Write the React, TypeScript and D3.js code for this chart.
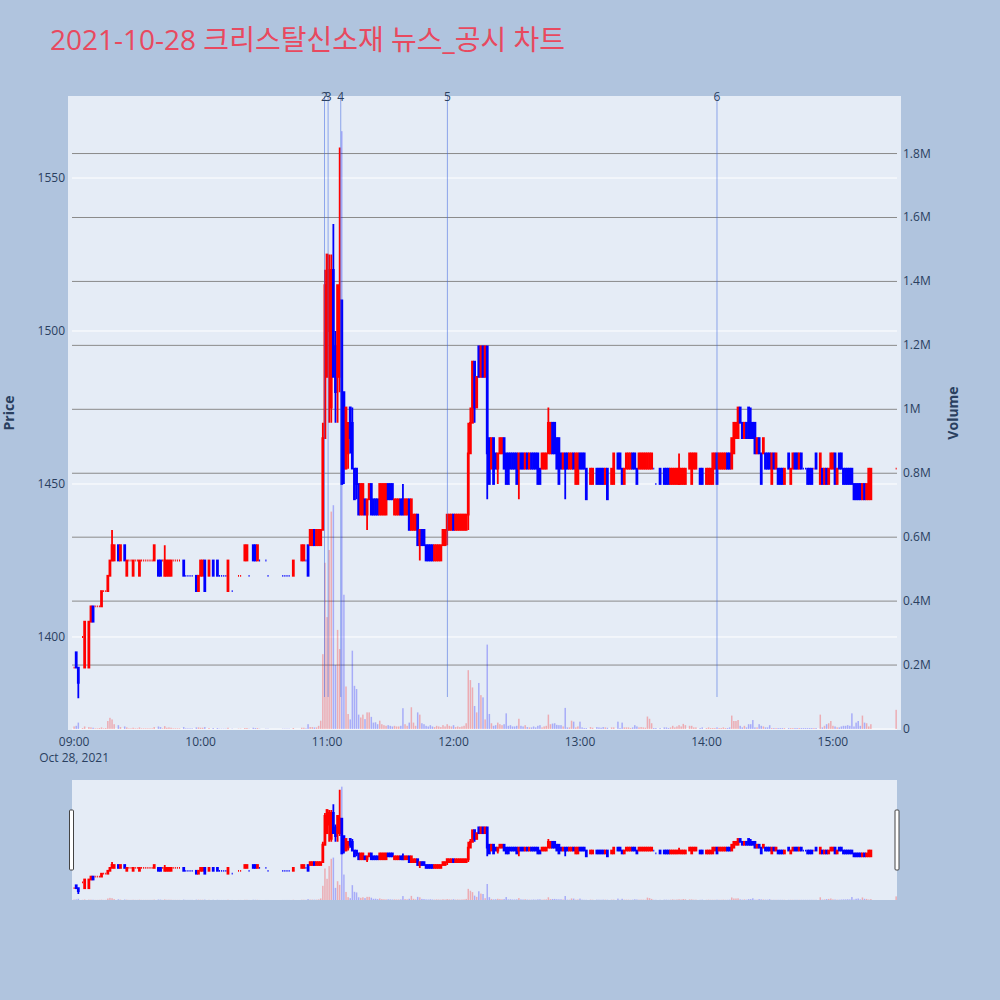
import React from "react";
import * as d3 from "d3";

// ---- data (minutes after 09:00, OHLC in KRW, volume in thousands of shares) ----
const minutes = [
  0, 1, 2, 4, 5, 7, 8, 9, 10, 11,
  12, 13, 14, 15, 16, 17, 18, 19, 21, 22,
  24, 25, 26, 27, 28, 29, 30, 31, 32, 33,
  34, 35, 36, 37, 38, 40, 41, 42, 43, 44,
  45, 46, 47, 48, 49, 50, 52, 53, 54, 55,
  56, 58, 59, 60, 61, 62, 64, 66, 68, 69,
  70, 71, 72, 73, 75, 78, 79, 81, 82, 83,
  85, 86, 87, 88, 91, 92, 99, 100, 101, 102,
  104, 108, 109, 110, 111, 112, 113, 114, 115, 116,
  117, 118, 119, 120, 121, 122, 123, 124, 125, 126,
  127, 128, 129, 130, 131, 132, 133, 134, 135, 136,
  137, 138, 139, 140, 141, 142, 143, 144, 145, 146,
  147, 148, 149, 150, 151, 152, 153, 154, 155, 156,
  157, 158, 159, 160, 161, 162, 163, 164, 165, 166,
  167, 168, 169, 170, 171, 172, 173, 174, 175, 176,
  177, 178, 179, 180, 181, 182, 183, 184, 185, 186,
  187, 188, 189, 190, 191, 192, 193, 194, 195, 196,
  197, 198, 199, 200, 201, 202, 203, 204, 205, 206,
  207, 208, 209, 210, 211, 212, 213, 214, 215, 216,
  217, 218, 219, 220, 221, 222, 223, 224, 225, 226,
  227, 228, 229, 230, 231, 232, 233, 234, 235, 236,
  237, 238, 239, 240, 241, 242, 243, 245, 246, 248,
  249, 250, 251, 252, 253, 255, 256, 258, 259, 260,
  261, 262, 263, 264, 265, 266, 267, 268, 269, 270,
  271, 272, 273, 274, 275, 276, 278, 280, 281, 282,
  283, 284, 285, 286, 287, 288, 289, 290, 292, 293,
  294, 295, 297, 298, 300, 301, 302, 303, 304, 305,
  306, 307, 308, 309, 310, 311, 312, 313, 314, 315,
  316, 317, 318, 319, 320, 321, 322, 323, 324, 325,
  326, 327, 328, 329, 330, 331, 332, 333, 334, 335,
  336, 337, 339, 340, 341, 342, 343, 344, 345, 346,
  347, 348, 349, 350, 351, 352, 354, 355, 356, 357,
  358, 359, 360, 361, 362, 363, 364, 365, 366, 367,
  368, 369, 370, 371, 372, 373, 374, 375, 376, 377,
  378, 390,
];
const opens = [
  1390, 1395, 1390, 1400, 1390, 1390, 1405, 1410, 1410, 1410,
  1410, 1410, 1415, 1415, 1415, 1420, 1425, 1425, 1430, 1425,
  1430, 1420, 1425, 1425, 1420, 1425, 1425, 1420, 1425, 1425,
  1425, 1425, 1425, 1425, 1425, 1425, 1425, 1425, 1420, 1420,
  1420, 1420, 1425, 1425, 1425, 1425, 1425, 1420, 1420, 1420,
  1420, 1420, 1415, 1420, 1420, 1425, 1420, 1425, 1425, 1420,
  1420, 1420, 1420, 1415, 1415, 1420, 1420, 1425, 1425, 1420,
  1430, 1430, 1425, 1425, 1425, 1420, 1420, 1420, 1420, 1420,
  1420, 1425, 1425, 1425, 1430, 1430, 1430, 1435, 1430, 1430,
  1430, 1435, 1465, 1485, 1500, 1475, 1520, 1495, 1485, 1485,
  1510, 1480, 1455, 1460, 1475, 1470, 1455, 1455, 1450, 1440,
  1440, 1445, 1440, 1445, 1450, 1445, 1445, 1445, 1440, 1440,
  1440, 1440, 1450, 1450, 1450, 1440, 1440, 1440, 1445, 1445,
  1440, 1440, 1445, 1435, 1435, 1435, 1440, 1430, 1435, 1435,
  1430, 1430, 1430, 1430, 1425, 1425, 1425, 1425, 1430, 1430,
  1435, 1435, 1435, 1440, 1435, 1435, 1435, 1435, 1435, 1435,
  1440, 1460, 1470, 1490, 1475, 1495, 1485, 1495, 1485, 1495,
  1465, 1455, 1465, 1460, 1455, 1460, 1460, 1465, 1460, 1460,
  1460, 1460, 1460, 1460, 1455, 1460, 1460, 1455, 1460, 1455,
  1460, 1460, 1460, 1460, 1455, 1455, 1455, 1455, 1460, 1460,
  1470, 1470, 1465, 1465, 1460, 1455, 1460, 1460, 1455, 1455,
  1460, 1450, 1450, 1460, 1460, 1460, 1455, 1450, 1450, 1455,
  1455, 1455, 1455, 1450, 1455, 1450, 1450, 1460, 1460, 1455,
  1450, 1455, 1455, 1455, 1460, 1460, 1455, 1455, 1455, 1455,
  1455, 1455, 1455, 1455, 1455, 1450, 1455, 1455, 1455, 1455,
  1450, 1450, 1450, 1450, 1450, 1450, 1450, 1450, 1455, 1450,
  1455, 1455, 1455, 1455, 1450, 1450, 1450, 1450, 1455, 1460,
  1455, 1455, 1455, 1455, 1460, 1460, 1455, 1460, 1465, 1465,
  1475, 1470, 1465, 1470, 1475, 1470, 1470, 1470, 1460, 1465,
  1460, 1460, 1460, 1460, 1460, 1450, 1460, 1455, 1455, 1455,
  1455, 1450, 1460, 1450, 1455, 1460, 1460, 1455, 1460, 1455,
  1455, 1455, 1455, 1455, 1455, 1460, 1450, 1455, 1450, 1455,
  1450, 1455, 1455, 1460, 1450, 1460, 1460, 1455, 1455, 1455,
  1455, 1455, 1450, 1450, 1450, 1450, 1445, 1450, 1445, 1445,
  1445, 1455,
];
const highs = [
  1390, 1395, 1390, 1400, 1405, 1405, 1410, 1410, 1410, 1410,
  1410, 1415, 1415, 1415, 1420, 1425, 1435, 1430, 1430, 1430,
  1430, 1425, 1425, 1425, 1425, 1425, 1425, 1425, 1425, 1425,
  1425, 1425, 1425, 1425, 1430, 1425, 1425, 1425, 1430, 1425,
  1425, 1425, 1425, 1425, 1425, 1425, 1425, 1420, 1420, 1420,
  1420, 1420, 1420, 1425, 1425, 1425, 1425, 1425, 1425, 1420,
  1420, 1420, 1420, 1425, 1415, 1420, 1420, 1430, 1430, 1420,
  1430, 1430, 1430, 1425, 1425, 1420, 1420, 1420, 1420, 1420,
  1425, 1430, 1430, 1425, 1430, 1435, 1435, 1435, 1435, 1435,
  1435, 1470, 1520, 1525, 1525, 1525, 1535, 1500, 1515, 1560,
  1510, 1480, 1475, 1470, 1475, 1475, 1455, 1455, 1450, 1450,
  1450, 1445, 1445, 1450, 1450, 1445, 1445, 1445, 1450, 1450,
  1450, 1450, 1450, 1450, 1450, 1445, 1445, 1445, 1445, 1450,
  1445, 1445, 1445, 1445, 1440, 1440, 1440, 1435, 1435, 1435,
  1430, 1430, 1430, 1430, 1430, 1430, 1430, 1430, 1435, 1435,
  1440, 1440, 1440, 1440, 1440, 1440, 1440, 1440, 1440, 1440,
  1470, 1475, 1490, 1490, 1485, 1495, 1495, 1495, 1495, 1495,
  1465, 1465, 1465, 1460, 1460, 1465, 1465, 1465, 1460, 1460,
  1460, 1460, 1460, 1460, 1460, 1460, 1460, 1460, 1460, 1460,
  1460, 1460, 1460, 1460, 1455, 1460, 1460, 1460, 1475, 1470,
  1470, 1470, 1465, 1465, 1460, 1460, 1460, 1460, 1460, 1460,
  1460, 1460, 1460, 1460, 1460, 1460, 1455, 1455, 1455, 1455,
  1455, 1455, 1455, 1455, 1455, 1455, 1460, 1460, 1460, 1455,
  1455, 1460, 1460, 1460, 1460, 1460, 1455, 1460, 1460, 1460,
  1460, 1460, 1460, 1460, 1455, 1450, 1455, 1455, 1455, 1455,
  1455, 1455, 1455, 1455, 1460, 1455, 1455, 1455, 1460, 1460,
  1460, 1460, 1455, 1455, 1455, 1455, 1455, 1460, 1460, 1460,
  1460, 1460, 1460, 1460, 1460, 1460, 1465, 1470, 1470, 1475,
  1475, 1470, 1470, 1470, 1475, 1475, 1470, 1470, 1465, 1465,
  1460, 1465, 1460, 1460, 1460, 1460, 1460, 1460, 1455, 1455,
  1455, 1455, 1460, 1455, 1460, 1460, 1460, 1460, 1460, 1455,
  1455, 1455, 1455, 1455, 1455, 1460, 1460, 1455, 1455, 1455,
  1455, 1460, 1460, 1460, 1455, 1460, 1460, 1455, 1455, 1455,
  1455, 1455, 1450, 1450, 1450, 1450, 1450, 1450, 1450, 1455,
  1455, 1455,
];
const lows = [
  1390, 1390, 1380, 1400, 1390, 1390, 1405, 1405, 1410, 1410,
  1410, 1410, 1415, 1415, 1415, 1420, 1425, 1425, 1425, 1425,
  1425, 1420, 1425, 1425, 1420, 1425, 1425, 1420, 1425, 1425,
  1425, 1425, 1425, 1425, 1425, 1420, 1420, 1425, 1420, 1420,
  1420, 1420, 1425, 1425, 1425, 1425, 1420, 1420, 1420, 1420,
  1420, 1415, 1415, 1420, 1420, 1415, 1420, 1420, 1420, 1420,
  1420, 1420, 1420, 1415, 1415, 1420, 1420, 1425, 1425, 1420,
  1425, 1425, 1425, 1425, 1425, 1420, 1420, 1420, 1420, 1420,
  1420, 1425, 1425, 1425, 1420, 1430, 1430, 1430, 1430, 1430,
  1430, 1435, 1465, 1485, 1470, 1470, 1485, 1470, 1470, 1480,
  1450, 1450, 1455, 1455, 1460, 1455, 1445, 1445, 1440, 1440,
  1440, 1440, 1435, 1445, 1440, 1440, 1440, 1440, 1440, 1440,
  1440, 1440, 1445, 1445, 1445, 1440, 1440, 1440, 1440, 1440,
  1440, 1440, 1435, 1435, 1435, 1435, 1430, 1425, 1430, 1430,
  1425, 1425, 1425, 1425, 1425, 1425, 1425, 1425, 1430, 1430,
  1430, 1435, 1435, 1435, 1435, 1435, 1435, 1435, 1435, 1435,
  1435, 1460, 1470, 1470, 1475, 1485, 1485, 1485, 1485, 1445,
  1450, 1455, 1450, 1455, 1450, 1460, 1460, 1455, 1450, 1450,
  1455, 1455, 1455, 1450, 1445, 1455, 1455, 1455, 1455, 1455,
  1455, 1455, 1455, 1450, 1450, 1455, 1455, 1455, 1460, 1460,
  1460, 1460, 1455, 1450, 1455, 1455, 1445, 1455, 1455, 1455,
  1455, 1450, 1450, 1455, 1455, 1455, 1445, 1450, 1450, 1450,
  1450, 1450, 1450, 1450, 1445, 1450, 1450, 1455, 1455, 1450,
  1450, 1455, 1455, 1455, 1455, 1455, 1450, 1455, 1455, 1455,
  1455, 1455, 1455, 1455, 1455, 1450, 1450, 1450, 1450, 1450,
  1450, 1450, 1450, 1450, 1450, 1450, 1450, 1450, 1455, 1450,
  1455, 1455, 1450, 1450, 1450, 1450, 1450, 1450, 1455, 1450,
  1455, 1455, 1455, 1455, 1455, 1455, 1455, 1460, 1465, 1465,
  1470, 1465, 1465, 1465, 1465, 1465, 1465, 1460, 1460, 1460,
  1450, 1460, 1455, 1455, 1455, 1450, 1455, 1455, 1450, 1450,
  1450, 1450, 1455, 1450, 1455, 1455, 1455, 1455, 1455, 1455,
  1455, 1450, 1450, 1450, 1455, 1455, 1450, 1450, 1450, 1450,
  1450, 1455, 1455, 1450, 1450, 1455, 1455, 1450, 1450, 1450,
  1450, 1450, 1445, 1445, 1445, 1445, 1445, 1445, 1445, 1445,
  1445, 1455,
];
const closes = [
  1390, 1390, 1385, 1400, 1405, 1405, 1410, 1405, 1410, 1410,
  1410, 1415, 1415, 1415, 1420, 1425, 1430, 1430, 1425, 1430,
  1425, 1425, 1425, 1425, 1425, 1425, 1425, 1425, 1425, 1425,
  1425, 1425, 1425, 1425, 1430, 1420, 1420, 1425, 1425, 1425,
  1425, 1425, 1425, 1425, 1425, 1425, 1420, 1420, 1420, 1420,
  1420, 1415, 1420, 1425, 1425, 1415, 1425, 1420, 1420, 1420,
  1420, 1420, 1420, 1425, 1415, 1420, 1420, 1430, 1430, 1420,
  1425, 1425, 1430, 1425, 1425, 1420, 1420, 1420, 1420, 1420,
  1425, 1430, 1430, 1425, 1420, 1435, 1435, 1430, 1435, 1435,
  1435, 1465, 1515, 1525, 1520, 1520, 1485, 1480, 1515, 1510,
  1450, 1455, 1475, 1470, 1465, 1455, 1445, 1450, 1440, 1450,
  1450, 1440, 1445, 1450, 1440, 1440, 1440, 1440, 1450, 1450,
  1450, 1450, 1445, 1445, 1445, 1445, 1445, 1445, 1440, 1440,
  1445, 1445, 1435, 1445, 1440, 1440, 1430, 1435, 1430, 1430,
  1425, 1425, 1425, 1425, 1430, 1430, 1430, 1430, 1435, 1435,
  1440, 1440, 1440, 1435, 1440, 1440, 1440, 1440, 1440, 1440,
  1460, 1470, 1490, 1475, 1485, 1485, 1495, 1485, 1495, 1460,
  1450, 1465, 1450, 1455, 1460, 1465, 1465, 1455, 1450, 1450,
  1455, 1455, 1455, 1450, 1460, 1455, 1455, 1460, 1455, 1460,
  1455, 1455, 1455, 1450, 1450, 1460, 1460, 1460, 1470, 1470,
  1460, 1460, 1455, 1450, 1455, 1460, 1455, 1455, 1460, 1460,
  1455, 1460, 1460, 1455, 1455, 1455, 1445, 1455, 1455, 1450,
  1450, 1450, 1450, 1455, 1445, 1455, 1460, 1455, 1455, 1450,
  1455, 1460, 1460, 1460, 1455, 1455, 1450, 1460, 1460, 1460,
  1460, 1460, 1460, 1460, 1455, 1450, 1450, 1450, 1450, 1450,
  1455, 1455, 1455, 1455, 1455, 1455, 1455, 1455, 1460, 1460,
  1460, 1460, 1450, 1450, 1455, 1455, 1455, 1460, 1460, 1450,
  1460, 1460, 1460, 1460, 1455, 1455, 1465, 1470, 1470, 1475,
  1470, 1465, 1470, 1465, 1465, 1465, 1465, 1460, 1465, 1460,
  1450, 1465, 1455, 1455, 1455, 1460, 1455, 1460, 1450, 1450,
  1450, 1455, 1455, 1455, 1460, 1455, 1455, 1460, 1455, 1455,
  1455, 1450, 1450, 1450, 1455, 1455, 1460, 1450, 1455, 1450,
  1455, 1460, 1460, 1450, 1455, 1455, 1455, 1450, 1450, 1450,
  1450, 1450, 1445, 1445, 1445, 1445, 1450, 1445, 1450, 1455,
  1455, 1455,
];
const volumesK = [
  8, 10, 20, 3, 8, 6, 5, 4, 2, 2,
  3, 5, 2, 3, 25, 35, 30, 15, 12, 6,
  8, 5, 2, 2, 4, 2, 2, 5, 2, 2,
  2, 2, 2, 2, 6, 8, 6, 2, 9, 4,
  5, 4, 2, 2, 2, 2, 6, 2, 2, 2,
  2, 5, 5, 4, 4, 6, 3, 3, 3, 1,
  1, 1, 1, 4, 1, 1, 1, 3, 3, 1,
  4, 3, 3, 1, 1, 1, 1, 1, 1, 1,
  3, 4, 4, 2, 15, 6, 6, 5, 5, 10,
  26, 234, 520, 350, 560, 680, 700, 200, 310, 250,
  1870, 420, 133, 47, 30, 245, 135, 125, 45, 36,
  45, 31, 52, 52, 38, 20, 21, 15, 26, 15,
  12, 10, 12, 10, 8, 10, 8, 8, 10, 65,
  15, 10, 20, 68, 20, 10, 52, 45, 18, 15,
  10, 8, 12, 8, 6, 10, 8, 6, 12, 8,
  15, 10, 8, 12, 6, 8, 6, 8, 10, 18,
  184, 153, 130, 72, 52, 144, 106, 99, 30, 264,
  47, 18, 10, 12, 20, 15, 12, 15, 49, 10,
  12, 8, 8, 10, 32, 10, 8, 12, 6, 5,
  5, 8, 5, 10, 12, 5, 8, 10, 45, 15,
  17, 18, 13, 12, 12, 8, 66, 5, 5, 26,
  23, 5, 8, 23, 5, 3, 3, 6, 4, 6,
  5, 4, 6, 5, 4, 5, 5, 23, 3, 20,
  5, 5, 5, 3, 5, 12, 8, 5, 6, 5,
  4, 39, 32, 18, 3, 3, 3, 5, 5, 3,
  5, 10, 5, 8, 12, 8, 16, 12, 10, 10,
  5, 5, 3, 5, 3, 5, 3, 3, 3, 5,
  3, 3, 5, 3, 3, 5, 42, 25, 25, 28,
  10, 5, 10, 5, 15, 15, 28, 5, 5, 15,
  10, 8, 5, 5, 12, 3, 3, 3, 3, 3,
  3, 3, 3, 3, 3, 3, 3, 3, 3, 3,
  3, 3, 3, 3, 3, 3, 45, 5, 10, 15,
  18, 25, 10, 8, 5, 5, 8, 10, 10, 12,
  10, 49, 8, 20, 25, 10, 42, 20, 18, 8,
  15, 60,
];

const priceTicks = [1400, 1450, 1500, 1550];
const volumeTicks = [0, 200000, 400000, 600000, 800000, 1000000, 1200000, 1400000, 1600000, 1800000];
const volumeTickLabels = ["0", "0.2M", "0.4M", "0.6M", "0.8M", "1M", "1.2M", "1.4M", "1.6M", "1.8M"];
const timeTicks = [0, 60, 120, 180, 240, 300, 360];
const timeTickLabels = ["09:00", "10:00", "11:00", "12:00", "13:00", "14:00", "15:00"];
const newsMinutes = [118.8, 120.5, 126.5, 177.1, 305.0];
const newsLabels = ["2", "3", "4", "5", "6"];
const titleText = "2021-10-28 크리스탈신소재 뉴스_공시 차트";
const dateLabel = "Oct 28, 2021";

const UP = "#ff0000";
const DOWN = "#0000ff";
const FONT = '"Open Sans", "Noto Sans CJK KR", sans-serif';
const TICK = "#2a3f5f";

type Bar = { m: number; o: number; h: number; l: number; c: number; v: number; up: boolean };

const bars: Bar[] = (() => {
  const out: Bar[] = [];
  let prevUp = true;
  minutes.forEach((m, i) => {
    const o = opens[i], c = closes[i];
    let up: boolean;
    if (c > o) up = true;
    else if (c < o) up = false;
    else if (i > 0 && c > closes[i - 1]) up = true;
    else if (i > 0 && c < closes[i - 1]) up = false;
    else up = prevUp;
    prevUp = up;
    out.push({ m, o, h: highs[i], l: lows[i], c, v: volumesK[i] * 1000, up });
  });
  return out;
})();

function candlePath(d: Bar, xs: (v: number) => number, ys: (v: number) => number, bw: number) {
  const cx = xs(d.m);
  const yo = ys(d.o), yc = ys(d.c);
  const top = Math.min(yo, yc), bot = Math.max(yo, yc);
  const x0 = cx - bw / 2, x1 = cx + bw / 2;
  return `M${cx},${ys(d.h)}V${top}M${cx},${ys(d.l)}V${bot}M${x0},${top}H${x1}V${bot}H${x0}Z`;
}

export default function App() {
  const X0 = 72, X1 = 897;
  const x = d3.scaleLinear().domain([-1, 390.4]).range([X0, X1]);
  const yP = d3.scaleLinear().domain([1369.6, 1576.8]).range([730, 96]);
  const yV = d3.scaleLinear().domain([0, 1980000]).range([729, 96]);
  const ysP = d3.scaleLinear().domain([1369.6, 1576.8]).range([900, 780]);
  const ysV = d3.scaleLinear().domain([0, 1980000]).range([900, 780]);

  return (
    <svg width={1000} height={1000} style={{ position: "absolute", left: 0, top: 0 }} fontFamily={FONT}>
      <rect x={0} y={0} width={1000} height={1000} fill="#b0c4de" />
      <text x={50} y={50} fontSize={28} fill="#e8495f">{titleText}</text>

      {/* main plot background */}
      <rect x={68} y={96} width={833} height={634} fill="#e5ecf6" />

      {/* price gridlines (white) */}
      {priceTicks.map((p) => (
        <line key={"pg" + p} x1={X0} x2={X1} y1={yP(p)} y2={yP(p)} stroke="#ffffff" strokeWidth={1} />
      ))}
      {/* volume gridlines (gray) */}
      {volumeTicks.slice(1).map((v) => (
        <line key={"vg" + v} x1={X0} x2={X1} y1={yV(v)} y2={yV(v)} stroke="#8a8a8a" strokeWidth={1} />
      ))}
      <line x1={X0} x2={X1} y1={yV(0)} y2={yV(0)} stroke="#ffffff" strokeWidth={1} />

      {/* volume bars */}
      {bars.map((d, i) => (
        <rect key={"v" + i} x={x(d.m) - 0.75} width={1.5} y={yV(d.v)} height={yV(0) - yV(d.v)}
          fill={d.up ? UP : DOWN} fillOpacity={0.27} />
      ))}

      {/* candles */}
      {bars.map((d, i) => (
        <path key={"c" + i} d={candlePath(d, x, yP, 1.0)} stroke={d.up ? UP : DOWN} strokeWidth={1.8}
          fill={d.up ? UP : DOWN} fillOpacity={0.5} />
      ))}

      {/* news lines */}
      {newsMinutes.map((m, i) => (
        <g key={"n" + i}>
          <line x1={x(m)} x2={x(m)} y1={96} y2={697} stroke="rgba(65,105,225,0.55)" strokeWidth={1} />
          <text x={x(m)} y={100.5} fontSize={12} fill={TICK} textAnchor="middle">{newsLabels[i]}</text>
        </g>
      ))}

      {/* left axis */}
      {priceTicks.map((p) => (
        <text key={"pt" + p} x={65} y={yP(p) + 4} fontSize={12} fill={TICK} textAnchor="end">{p}</text>
      ))}
      {/* right axis */}
      {volumeTicks.map((v, i) => (
        <text key={"vt" + v} x={903} y={yV(v) + 4} fontSize={12} fill={TICK} textAnchor="start">{volumeTickLabels[i]}</text>
      ))}
      {/* x axis */}
      {timeTicks.map((m, i) => (
        <text key={"xt" + m} x={x(m)} y={746} fontSize={12} fill={TICK} textAnchor="middle">{timeTickLabels[i]}</text>
      ))}
      <text x={x(0)} y={762} fontSize={12} fill={TICK} textAnchor="middle">{dateLabel}</text>

      <text transform="translate(14,413) rotate(-90)" fontSize={14} fontWeight="bold" fill={TICK} textAnchor="middle">Price</text>
      <text transform="translate(958,413) rotate(-90)" fontSize={14} fontWeight="bold" fill={TICK} textAnchor="middle">Volume</text>

      {/* range slider */}
      <rect x={X0} y={780} width={X1 - X0} height={120} fill="#e5ecf6" />
      {bars.map((d, i) => (
        <rect key={"sv" + i} x={x(d.m) - 0.75} width={1.5} y={ysV(d.v)} height={ysV(0) - ysV(d.v)}
          fill={d.up ? UP : DOWN} fillOpacity={0.27} />
      ))}
      {bars.map((d, i) => (
        <path key={"sc" + i} d={candlePath(d, x, ysP, 1.0)} stroke={d.up ? UP : DOWN} strokeWidth={1.8}
          fill={d.up ? UP : DOWN} fillOpacity={0.5} />
      ))}
      <rect x={69.5} y={810} width={4} height={60} fill="#ffffff" stroke="#444" strokeWidth={1} rx={1} />
      <rect x={895} y={810} width={4} height={60} fill="#ffffff" stroke="#444" strokeWidth={1} rx={1} />
    </svg>
  );
}
